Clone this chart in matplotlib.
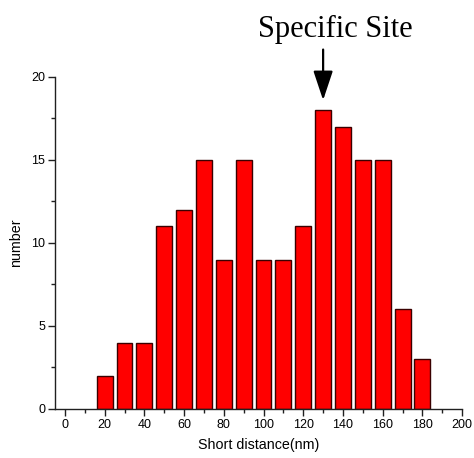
import matplotlib
matplotlib.use("Agg")
import matplotlib.pyplot as plt
from matplotlib.patches import FancyArrowPatch
from matplotlib.ticker import MultipleLocator

# Histogram of short distances
distance_nm = [20, 30, 40, 50, 60, 70, 80, 90, 100, 110, 120, 130, 140, 150, 160, 170, 180]
counts = [2, 4, 4, 11, 12, 15, 9, 15, 9, 9, 11, 18, 17, 15, 15, 6, 3]
site_x = 130
site_label = "Specific Site"

plt.rcParams["font.family"] = ["Liberation Sans", "DejaVu Sans"]

fig = plt.figure(figsize=(4.74, 4.58), dpi=100)
ax = fig.add_axes([0.116, 0.107, 0.859, 0.725])

ax.bar(distance_nm, counts, width=8, color="#ff0000", edgecolor="#3a0000",
       linewidth=1.0, zorder=2)

ax.set_xlim(-5, 200)
ax.set_ylim(0, 20)
ax.xaxis.set_major_locator(MultipleLocator(20))
ax.xaxis.set_minor_locator(MultipleLocator(10))
ax.yaxis.set_major_locator(MultipleLocator(5))
ax.yaxis.set_minor_locator(MultipleLocator(2.5))

for side in ("top", "right"):
    ax.spines[side].set_visible(False)
for side in ("left", "bottom"):
    ax.spines[side].set_linewidth(1.0)
    ax.spines[side].set_color("#202020")
ax.spines["bottom"].set_bounds(-5, 200)

ax.tick_params(axis="both", which="major", direction="out", length=5, width=1.0,
               labelsize=9, color="#202020", pad=2)
ax.tick_params(axis="both", which="minor", direction="out", length=3, width=1.0,
               color="#202020")

ax.set_xlabel("Short distance(nm)", fontsize=10.3, labelpad=5)
ax.set_ylabel("number", fontsize=10.3, labelpad=6)

# Marker for the specific site
arrow = FancyArrowPatch((site_x, 21.65), (site_x, 18.6),
                        arrowstyle="-|>,head_length=18,head_width=6",
                        mutation_scale=1, color="black", linewidth=1.6,
                        transform=ax.transData, clip_on=False, shrinkA=0, shrinkB=0)
ax.add_patch(arrow)
fig.text(335 / 474, 1 - 36.5 / 458, site_label, ha="center", va="baseline",
         fontsize=22, family=["Liberation Serif", "DejaVu Serif"])

fig.savefig("out.png", dpi=100)
